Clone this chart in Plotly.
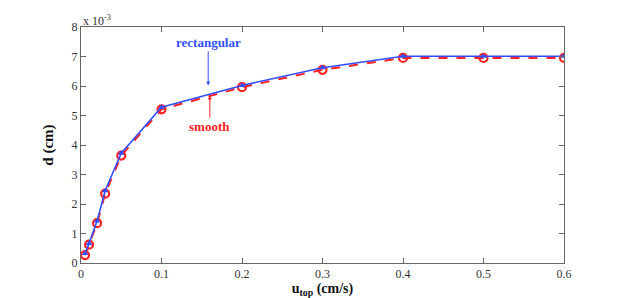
import plotly.graph_objects as go

u_top = [0.005, 0.01, 0.02, 0.03, 0.05, 0.1, 0.2, 0.3, 0.4, 0.5, 0.6]
d_rect = [0.32, 0.66, 1.42, 2.45, 3.72, 5.28, 6.02, 6.62, 7.01, 7.01, 7.01]   # x 1e-3 cm
d_smooth = [0.27, 0.62, 1.35, 2.35, 3.64, 5.21, 5.96, 6.55, 6.95, 6.95, 6.95]  # x 1e-3 cm
x_ticks = [0, 0.1, 0.2, 0.3, 0.4, 0.5, 0.6]
y_ticks = [0, 1, 2, 3, 4, 5, 6, 7, 8]

BLUE = "#3050ff"
RED = "#ff2020"
FONT = "Liberation Serif, Times New Roman, serif"

fig = go.Figure()
fig.add_trace(go.Scatter(
    x=u_top, y=d_smooth, mode="lines+markers", name="smooth",
    line=dict(color=RED, width=2, dash="dash"),
    marker=dict(symbol="circle-open", size=8, color=RED, line=dict(width=2.2, color=RED)),
))
fig.add_trace(go.Scatter(
    x=u_top, y=d_rect, mode="lines+markers", name="rectangular",
    line=dict(color=BLUE, width=1.6),
    marker=dict(symbol="triangle-up", size=6, color=BLUE),
))

fig.add_annotation(x=0.158, y=6.02, xref="x", yref="y", text="<b>rectangular</b>",
                   showarrow=True, ax=0, ay=-43, arrowhead=2, arrowsize=0.8,
                   arrowwidth=1, arrowcolor=BLUE,
                   font=dict(family=FONT, size=13, color=BLUE))
fig.add_annotation(x=0.16, y=5.68, xref="x", yref="y", text="<b>smooth</b>",
                   showarrow=True, ax=0, ay=31, arrowhead=2, arrowsize=0.8,
                   arrowwidth=1, arrowcolor=RED,
                   font=dict(family=FONT, size=13, color=RED))
fig.add_annotation(x=0, y=1, xref="paper", yref="paper", xanchor="left", yanchor="bottom",
                   text="x 10<sup>-3</sup>", showarrow=False, yshift=-3,
                   font=dict(family=FONT, size=12, color="#333"))

axis_common = dict(
    showgrid=False, zeroline=False, showline=True, linecolor="#666", linewidth=1,
    mirror="ticks", ticks="inside", ticklen=5, tickcolor="#666",
    tickfont=dict(family=FONT, size=12, color="#333"),
)
fig.update_xaxes(range=[0, 0.6], tickvals=x_ticks, ticktext=[f"{v:g}" for v in x_ticks],
                 title=dict(text="<b>u<sub>top</sub> (cm/s)</b>", standoff=0,
                            font=dict(family=FONT, size=14, color="#111")),
                 **axis_common)
fig.update_yaxes(range=[0, 8], tickvals=y_ticks,
                 title=dict(text="<b>d (cm)</b>", standoff=14,
                            font=dict(family=FONT, size=15, color="#111")),
                 **axis_common)

fig.update_layout(
    width=623, height=298,
    margin=dict(l=73, r=67, t=14, b=43),
    paper_bgcolor="white", plot_bgcolor="white",
    showlegend=False,
)
fig.write_html("out.html")
